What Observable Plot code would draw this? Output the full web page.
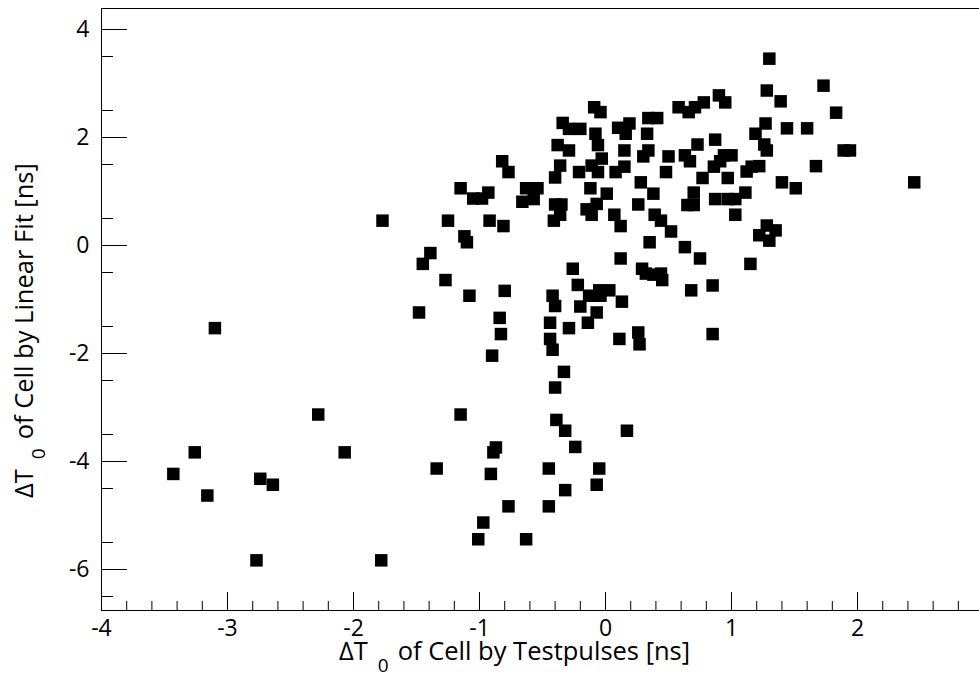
<!DOCTYPE html>
<html>
<head>
<meta charset="utf-8">
<script src="https://cdn.jsdelivr.net/npm/d3@7"></script>
<script src="https://cdn.jsdelivr.net/npm/@observablehq/plot@0.6"></script>
<style>
  html, body { margin: 0; padding: 0; background: #fff; overflow: hidden; }
  #chart svg { display: block; }
</style>
</head>
<body>
<div id="chart"></div>
<script>
// ΔT0 of cell by test pulses [ns]
const xTestpulse = [
  -2.28, -3.26, -3.43, -3.16, -2.74, -2.64, -2.77, -3.10,
  -0.90, -0.42, 0.11, 0.27, -0.33, -0.40, -1.15, -0.39, -0.32, 0.17,
  -2.07, -0.87, -0.89, -0.24, -1.34, -0.91, -0.45, -0.05, -0.07, -0.32,
  -0.77, -0.45, -0.97, -1.01, -0.63, -1.78,
  -1.77, -1.25, -0.92, -0.81, -1.12, -1.10, -1.39, -1.45, -1.27, -1.08,
  -0.80, -1.48, -0.84, -0.83, -0.42, -0.40, -0.44, -0.44,
  0.70, 0.65, 0.70, 0.87, 0.97, 1.03, 1.11, 1.03,
  -0.40, -0.35, -0.41, -0.36, -0.07, -0.15, -0.11, 0.26, 0.07, 0.12,
  0.39, 0.44, 0.52, 0.35, 0.63, 0.75, 1.15, 0.12, -0.26, 0.29,
  0.32, 0.38, 0.44, 0.45, 0.85, 0.68, -0.22, -0.05, 0.03, -0.13,
  -0.04, 0.13, -0.20, -0.07, -0.14, -0.29, 0.26, 0.85,
  1.28, 1.22, 1.35, 1.30,
  1.30, 1.73, 1.28, 1.39, 1.83, 1.27, 1.19, 1.44, 1.60, 1.26,
  1.28, 1.89, 1.94, 1.22, 1.16, 1.12, 1.67, 1.40, 1.51, 2.45,
  -0.09, -0.04, -0.34, -0.29, -0.20, -0.08, -0.06, -0.38, -0.29, -0.36,
  -0.40, -0.21, -0.11, -0.06, -0.03, -0.82, -0.77, -1.15, -1.05, -0.98,
  -0.93, -0.63, -0.54, -0.66, -0.57, -0.12, 0.01,
  0.58, 0.66, 0.71, 0.78, 0.90, 0.95, 0.10, 0.19, 0.16, 0.34,
  0.41, 0.33, 0.73, 0.87, 0.15, 0.34, 0.30, 0.50, 0.63, 0.67,
  0.08, 0.15, 0.48, 0.86, 0.91, 0.94, 1.00, 0.77, 0.97, 0.28, 0.38
];
// ΔT0 of cell by linear fit [ns]
const yLinearFit = [
  -3.13, -3.83, -4.23, -4.63, -4.32, -4.43, -5.83, -1.53,
  -2.04, -1.93, -1.73, -1.83, -2.34, -2.63, -3.13, -3.23, -3.43, -3.43,
  -3.83, -3.74, -3.83, -3.73, -4.13, -4.23, -4.13, -4.13, -4.43, -4.53,
  -4.83, -4.83, -5.13, -5.44, -5.44, -5.83,
  0.46, 0.46, 0.46, 0.36, 0.17, 0.06, -0.14, -0.34, -0.64, -0.93,
  -0.84, -1.24, -1.34, -1.64, -0.93, -1.12, -1.43, -1.73,
  0.98, 0.75, 0.75, 0.86, 0.86, 0.86, 0.98, 0.57,
  0.76, 0.76, 0.46, 0.57, 0.77, 0.67, 0.57, 0.76, 0.57, 0.36,
  0.57, 0.46, 0.26, 0.06, -0.03, -0.24, -0.34, -0.24, -0.43, -0.43,
  -0.52, -0.54, -0.52, -0.64, -0.74, -0.83, -0.73, -0.83, -0.83, -0.93,
  -0.93, -1.04, -1.13, -1.24, -1.43, -1.53, -1.61, -1.64,
  0.37, 0.19, 0.28, 0.09,
  3.46, 2.96, 2.87, 2.67, 2.46, 2.26, 2.07, 2.17, 2.17, 1.87,
  1.76, 1.76, 1.76, 1.47, 1.46, 1.37, 1.47, 1.17, 1.06, 1.17,
  2.56, 2.47, 2.27, 2.16, 2.16, 2.07, 1.86, 1.86, 1.76, 1.48,
  1.26, 1.36, 1.48, 1.36, 1.61, 1.56, 1.36, 1.06, 0.87, 0.87,
  0.98, 1.06, 1.06, 0.81, 0.86, 1.06, 0.96,
  2.56, 2.47, 2.56, 2.65, 2.78, 2.65, 2.18, 2.26, 2.07, 2.36,
  2.36, 2.07, 1.87, 1.96, 1.76, 1.76, 1.65, 1.65, 1.67, 1.56,
  1.36, 1.46, 1.36, 1.46, 1.56, 1.67, 1.67, 1.25, 1.25, 1.17, 0.96
];

const xDomain = [-4, 2.968];
const yDomain = [-6.759, 4.389];
const xMajorTicks = [-4, -3, -2, -1, 0, 1, 2];
const yMajorTicks = [-6, -4, -2, 0, 2, 4];
const xMinorTicks = d3.range(-40, 30, 2).map(v => v / 10).filter(v => !Number.isInteger(v));
const yMinorTicks = d3.range(-13, 9, 1).map(v => v / 2).filter(v => !Number.isInteger(v));

const points = xTestpulse.map((x, i) => ({x, y: yLinearFit[i]}));

// layout
const W = 979, H = 678;
const M = {left: 101, right: 0, top: 8, bottom: 68};
const plotW = W - M.left - M.right;
const plotH = H - M.top - M.bottom;

const FONT = "'Open Sans', 'Liberation Sans', sans-serif";
const fmt = d => String(d);

const plot = Plot.plot({
  width: W,
  height: H,
  marginLeft: M.left,
  marginRight: M.right,
  marginTop: M.top,
  marginBottom: M.bottom,
  style: {fontFamily: FONT, background: "#fff", color: "#000"},
  x: {domain: xDomain, axis: null},
  y: {domain: yDomain, axis: null},
  marks: [
    Plot.frame({anchor: "top", stroke: "#000"}),
    Plot.frame({anchor: "left", stroke: "#000"}),
    Plot.frame({anchor: "bottom", stroke: "#000"}),
    // inward ticks on x axis
    Plot.tickX(xMajorTicks, {x: d => d, insetTop: plotH - 18, stroke: "#000"}),
    Plot.tickX(xMinorTicks, {x: d => d, insetTop: plotH - 9, stroke: "#000"}),
    // inward ticks on y axis
    Plot.tickY(yMajorTicks, {y: d => d, insetRight: plotW - 26, stroke: "#000"}),
    Plot.tickY(yMinorTicks, {y: d => d, insetRight: plotW - 12, stroke: "#000"}),
    // tick labels
    Plot.axisX(xMajorTicks, {anchor: "bottom", tickSize: 0, tickPadding: 9, tickFormat: fmt, fontSize: 23, label: null, fill: "#000"}),
    Plot.axisY(yMajorTicks, {anchor: "left", tickSize: 0, tickPadding: 12, tickFormat: fmt, fontSize: 23, label: null, fill: "#000"}),
    Plot.dot(points, {x: "x", y: "y", symbol: "square", r: 7.05, fill: "#000"})
  ]
});

const svg = d3.select(plot);
function axisTitle(sel, rest) {
  sel.attr("font-family", FONT).attr("font-size", 25.5).attr("fill", "#000")
     .attr("text-anchor", "start");
  sel.append("tspan").text("ΔT");
  sel.append("tspan").attr("dx", 10).attr("dy", 12).attr("font-size", 19).text("0");
  sel.append("tspan").attr("dx", 9).attr("dy", -12).text(rest);
}
// x axis title
axisTitle(svg.append("text").attr("x", 339).attr("y", 660), "of Cell by Testpulses [ns]");
// y axis title
axisTitle(svg.append("text").attr("transform", "translate(33,498) rotate(-90)"), "of Cell by Linear Fit [ns]");

document.getElementById("chart").appendChild(plot);
</script>
</body>
</html>
